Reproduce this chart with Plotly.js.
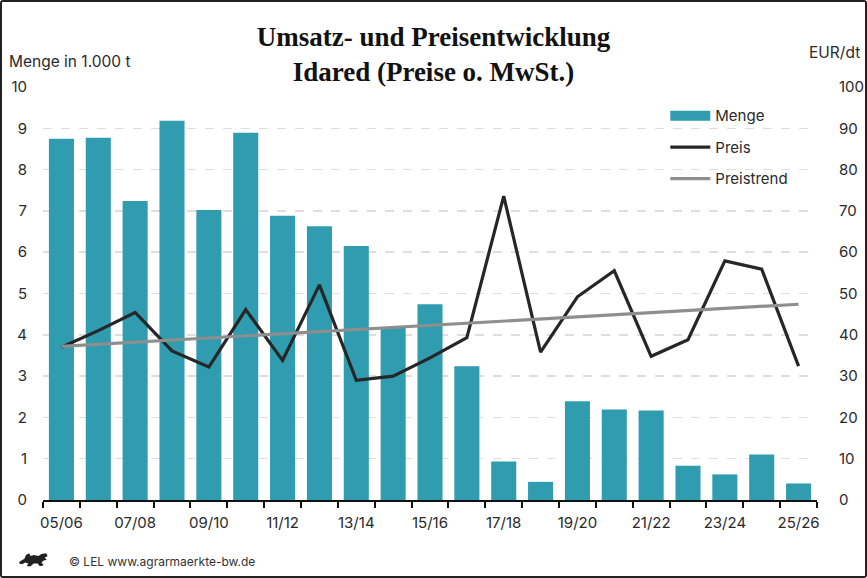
<!DOCTYPE html>
<html><head><meta charset="utf-8">
<script src="https://cdn.plot.ly/plotly-3.0.1.min.js"></script>
<style>
html,body{margin:0;padding:0;background:#fff;}
#frame{position:absolute;left:0;top:0;width:863px;height:574px;border:2px solid #222;border-radius:3px;overflow:hidden;}
#chart{width:863px;height:574px;}
</style></head>
<body><div id="frame"><div id="chart"></div></div>
<script>
const seasons = ["05/06","06/07","07/08","08/09","09/10","10/11","11/12","12/13","13/14","14/15","15/16","16/17","17/18","18/19","19/20","20/21","21/22","22/23","23/24","24/25","25/26"];
const menge = [8.75,8.77,7.24,9.18,7.02,8.89,6.88,6.63,6.15,4.17,4.74,3.24,0.93,0.44,2.39,2.19,2.17,0.83,0.62,1.10,0.40];
const preis = [37.0,41.0,45.4,36.1,32.2,46.1,33.8,52.1,29.0,30.0,34.4,39.3,73.6,35.8,49.2,55.5,34.8,38.8,57.9,55.9,32.4];
const trendSeasons = ["05/06","25/26"];
const trendValues = [37.2,47.4];
const yLeftTicks = [0,1,2,3,4,5,6,7,8,9,10];
const yRightTicks = [0,10,20,30,40,50,60,70,80,90,100];

const idx = s => seasons.indexOf(s);
const xi = seasons.map((s,i)=>i);
const labelIdx = xi.filter(i=>i%2===0);

const teal = '#309cb0';
const font = 'Inter, Roboto, "Noto Sans", sans-serif';

const traces = [
  {type:'bar', x:xi, y:menge, name:'Menge', marker:{color:teal}, showlegend:false, yaxis:'y', hoverinfo:'skip'},
  {type:'scatter', mode:'lines', x:[null], y:[null], name:'Menge', line:{color:teal, width:10}, legendgroup:'a', yaxis:'y'},
  {type:'scatter', mode:'lines', x:xi, y:preis, name:'Preis', line:{color:'#262626', width:3.2}, yaxis:'y2', legendgroup:'b'},
  {type:'scatter', mode:'lines', x:trendSeasons.map(idx), y:trendValues, name:'Preistrend', line:{color:'#8e8e8e', width:3.2}, yaxis:'y2', legendgroup:'c'}
];

const layout = {
  width:863, height:574,
  margin:{l:41, r:48, t:85, b:76},
  paper_bgcolor:'#fff', plot_bgcolor:'#fff',
  font:{family:font, size:15, color:'#2a2a2a'},
  bargap:0.32,
  title:{text:'Umsatz- und Preisentwicklung<br>Idared (Preise o. MwSt.)', x:0.5, xanchor:'center', y:0.923, yanchor:'top',
         font:{family:'"Liberation Serif", "DejaVu Serif", serif', size:27, color:'#111', weight:'bold'}},
  xaxis:{range:[-0.5,20.5], tickmode:'array', tickvals:labelIdx, ticktext:labelIdx.map(i=>seasons[i]),
         ticks:'', showgrid:false, zeroline:false, showline:true, linecolor:'#111', linewidth:2, ticklabelstandoff:8,
         minor:{tickmode:'linear', tick0:-0.5, dtick:1, ticks:'outside', ticklen:6, tickwidth:2, tickcolor:'#111', showgrid:false},
         tickfont:{size:15, color:'#2a2a2a'}, fixedrange:true},
  yaxis:{range:[0,10], tickmode:'array', tickvals:yLeftTicks, showgrid:true, gridcolor:'#e2dcdc', griddash:'dash', gridwidth:1.5,
         zeroline:false, showline:false, ticks:'', ticklabelstandoff:15, tickfont:{size:15}},
  yaxis2:{range:[0,100], tickmode:'array', tickvals:yRightTicks, overlaying:'y', side:'right', showgrid:false, zeroline:false,
          showline:false, ticks:'', ticklabelstandoff:21, tickfont:{size:15}},
  legend:{x:0.804, xanchor:'left', y:0.970, yanchor:'top', bgcolor:'rgba(0,0,0,0)', font:{size:15}, tracegroupgap:9, itemwidth:40, traceorder:'grouped'},
  annotations:[
    {xref:'paper', yref:'paper', x:-0.047, xanchor:'left', y:1.061, yanchor:'middle', text:'Menge in 1.000 t', showarrow:false, font:{size:15.5}},
    {xref:'paper', yref:'paper', x:1.0585, xanchor:'right', y:1.083, yanchor:'middle', text:'EUR/dt', showarrow:false, font:{size:15.5}},
    {xref:'paper', yref:'paper', x:0.031, xanchor:'left', y:-0.15, yanchor:'middle', text:'© LEL www.agrarmaerkte-bw.de', showarrow:false, font:{size:12, color:'#333'}}
  ],
  images:[
    {source:'data:image/svg+xml;utf8,' + encodeURIComponent('<svg xmlns="http://www.w3.org/2000/svg" width="40" height="20" viewBox="0 0 40 20"><path d="M2 12 L8 9 L10 5 L14 3 L16 6 L20 5 L26 6 L30 4 L36 3 L38 6 L34 8 L37 10 L33 11 L30 13 L33 16 L28 17 L25 14 L20 14 L16 17 L11 17 L13 14 L9 13 L5 15 L1 14 Z" fill="#222"/></svg>'),
     xref:'paper', yref:'paper', x:-0.032, y:-0.122, sizex:0.04, sizey:0.045, xanchor:'left', yanchor:'top', sizing:'stretch'}
  ]
};

Plotly.newPlot('chart', traces, layout, {displayModeBar:false, staticPlot:true});
</script></body></html>
